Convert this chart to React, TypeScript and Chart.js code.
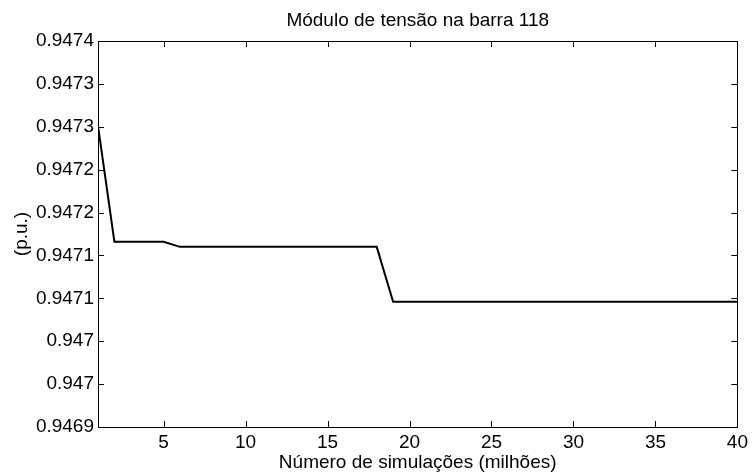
import React, { useEffect, useRef } from "react";
import { Chart, registerables } from "chart.js";

Chart.register(...registerables);

const titleText = "Módulo de tensão na barra 118";
const xLabel = "Número de simulações (milhões)";
const yLabel = "(p.u.)";

const simulations = [
  1, 2, 3, 4, 5, 6, 7, 8, 9, 10, 11, 12, 13, 14, 15, 16, 17, 18, 19, 20,
  21, 22, 23, 24, 25, 26, 27, 28, 29, 30, 31, 32, 33, 34, 35, 36, 37, 38, 39, 40,
];
const voltage = [
  0.947251, 0.947116, 0.947116, 0.947116, 0.947116, 0.94711, 0.94711, 0.94711,
  0.94711, 0.94711, 0.94711, 0.94711, 0.94711, 0.94711, 0.94711, 0.94711,
  0.94711, 0.94711, 0.947046, 0.947046, 0.947046, 0.947046, 0.947046, 0.947046,
  0.947046, 0.947046, 0.947046, 0.947046, 0.947046, 0.947046, 0.947046,
  0.947046, 0.947046, 0.947046, 0.947046, 0.947046, 0.947046, 0.947046,
  0.947046, 0.947046,
];

const xTickValues = [5, 10, 15, 20, 25, 30, 35, 40];
const yTickValues = [
  0.9469, 0.94695, 0.947, 0.94705, 0.9471, 0.94715, 0.9472, 0.94725, 0.9473,
  0.94735,
];
const yTickLabels = [
  "0.9469", "0.947", "0.947", "0.9471", "0.9471", "0.9472", "0.9472", "0.9473",
  "0.9473", "0.9474",
];

const FONT = "'Liberation Sans', Arial, Helvetica, sans-serif";

const framePlugin = {
  id: "matlabFrame",
  afterDraw(chart: any) {
    const { ctx, chartArea } = chart;
    const { left, right, top, bottom } = chartArea;
    const xs = chart.scales.x;
    const ys = chart.scales.y;
    ctx.save();
    ctx.strokeStyle = "#000";
    ctx.lineWidth = 1;
    ctx.beginPath();
    const tl = 6;
    xTickValues.forEach((v) => {
      const px = Math.round(xs.getPixelForValue(v)) + 0.5;
      ctx.moveTo(px, bottom);
      ctx.lineTo(px, bottom - tl);
      ctx.moveTo(px, top);
      ctx.lineTo(px, top + tl);
    });
    yTickValues.forEach((v) => {
      const py = Math.round(ys.getPixelForValue(v)) + 0.5;
      ctx.moveTo(left, py);
      ctx.lineTo(left + tl, py);
      ctx.moveTo(right, py);
      ctx.lineTo(right - tl, py);
    });
    ctx.stroke();
    ctx.strokeRect(
      Math.round(left) + 0.5,
      Math.round(top) + 0.5,
      Math.round(right) - Math.round(left),
      Math.round(bottom) - Math.round(top)
    );

    ctx.fillStyle = "#000";
    ctx.font = `19px ${FONT}`;
    ctx.textAlign = "center";
    ctx.textBaseline = "alphabetic";
    const cx = (left + right) / 2;
    ctx.fillText(titleText, cx, 26);
    ctx.fillText(xLabel, cx, 468);
    ctx.save();
    ctx.translate(27, (top + bottom) / 2);
    ctx.rotate(-Math.PI / 2);
    ctx.fillText(yLabel, 0, 0);
    ctx.restore();
    ctx.restore();
  },
};

export default function App() {
  const ref = useRef<HTMLCanvasElement>(null);

  useEffect(() => {
    if (!ref.current) return;
    const chart = new Chart(ref.current, {
      type: "line",
      data: {
        datasets: [
          {
            data: simulations.map((x, i) => ({ x, y: voltage[i] })),
            borderColor: "#000",
            borderWidth: 2,
            pointRadius: 0,
            tension: 0,
            fill: false,
          },
        ],
      },
      options: {
        responsive: false,
        animation: false,
        devicePixelRatio: 1,
        layout: { padding: { left: 0, right: 13, top: 41, bottom: 0 } },
        plugins: {
          legend: { display: false },
          tooltip: { enabled: false },
          title: { display: false },
        },
        scales: {
          x: {
            type: "linear",
            min: 1,
            max: 40,
            grid: { display: false, drawTicks: false, tickLength: 0 },
            border: { display: false },
            afterBuildTicks: (s: any) => {
              s.ticks = xTickValues.map((v) => ({ value: v }));
            },
            afterFit: (s: any) => {
              s.height = 46;
            },
            ticks: {
              color: "#000",
              font: { family: FONT, size: 19 },
              padding: 4,
              maxRotation: 0,
              autoSkip: false,
              callback: (v: any) => String(v),
            },
          },
          y: {
            type: "linear",
            min: 0.9469,
            max: 0.94735,
            grid: { display: false, drawTicks: false, tickLength: 0 },
            border: { display: false },
            afterBuildTicks: (s: any) => {
              s.ticks = yTickValues.map((v) => ({ value: v }));
            },
            afterFit: (s: any) => {
              s.width = 98;
            },
            ticks: {
              color: "#000",
              font: { family: FONT, size: 19 },
              padding: 4,
              autoSkip: false,
              callback: (_v: any, i: number) => yTickLabels[i],
            },
          },
        },
      },
      plugins: [framePlugin],
    });
    return () => chart.destroy();
  }, []);

  return (
    <div style={{ position: "fixed", left: 0, top: 0, width: 752, height: 473, background: "#fff" }}>
      <canvas ref={ref} width={752} height={473} style={{ width: 752, height: 473 }} />
    </div>
  );
}
